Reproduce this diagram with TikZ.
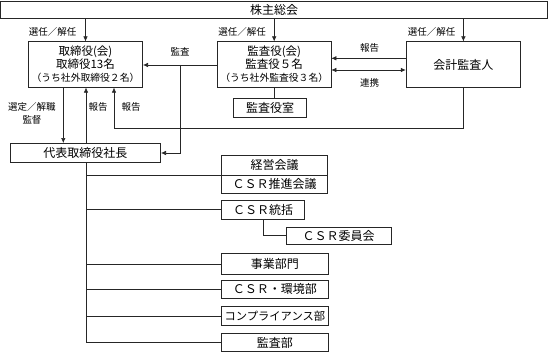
\documentclass[tikz,border=0pt]{standalone}
\usepackage{fontspec}
\setmainfont{Noto Sans CJK JP}
\usetikzlibrary{arrows.meta}
\tikzset{
  box/.style={draw=black!85, line width=0.6pt, inner sep=0pt, anchor=center,
    font=\fontsize{12}{13}\selectfont},
  bigbox/.style={box, align=center, font=\fontsize{11.5}{13}\selectfont},
  lbl/.style={inner sep=0pt, font=\fontsize{9.5}{12.7}\selectfont, align=center},
  ln/.style={line width=0.6pt, draw=black!85},
  arr/.style={ln, -{Latex[length=5pt,width=4.5pt]}},
  darr/.style={ln, {Latex[length=5pt,width=4.5pt]}-{Latex[length=5pt,width=4.5pt]}},
}
\begin{document}
\begin{tikzpicture}[x=1pt,y=-1pt]
\useasboundingbox (0,0) rectangle (549,353);
% boxes
\node[box, minimum width=547pt, minimum height=17.3pt] (top) at (274.2,9.7) {株主総会};
\node[bigbox, minimum width=114.4pt, minimum height=45.6pt] (tori) at (85.5,64.5)
  {取締役(会)\\取締役13名\\{\fontsize{9.8}{13}\selectfont （うち社外取締役２名）}};
\node[bigbox, minimum width=113.7pt, minimum height=45.6pt] (kansa) at (274.2,64.5)
  {監査役(会)\\監査役５名\\{\fontsize{9.8}{13}\selectfont （うち社外監査役３名）}};
\node[box, minimum width=114.7pt, minimum height=45.6pt] (kaikei) at (463.4,64.5) {会計監査人};
\node[box, minimum width=73.4pt, minimum height=19pt] (shitsu) at (270,107.8) {監査役室};
\node[box, minimum width=150.7pt, minimum height=19.4pt] (pres) at (85.35,153) {代表取締役社長};
\node[box, minimum width=106pt, minimum height=20pt] (keiei) at (274.7,165) {経営会議};
\node[box, minimum width=106pt, minimum height=18.3pt] (csrp) at (274.7,184.15) {ＣＳＲ推進会議};
\node[box, minimum width=82.6pt, minimum height=19.3pt] (csrt) at (263,209.65) {ＣＳＲ統括};
\node[box, minimum width=105pt, minimum height=16.7pt] (csri) at (338.5,235.7) {ＣＳＲ委員会};
\node[box, minimum width=106.3pt, minimum height=21pt] (jigyo) at (274.85,264) {事業部門};
\node[box, minimum width=106.3pt, minimum height=18.3pt] (csre) at (274.85,289.15) {ＣＳＲ・環境部};
\node[box, minimum width=106.3pt, minimum height=18.3pt, font=\fontsize{11.3}{13}\selectfont] (comp) at (274.85,315.85) {コンプライアンス部};
\node[box, minimum width=106.3pt, minimum height=18.3pt] (kbu) at (274.85,342.5) {監査部};
% helper coordinates
\coordinate (xA) at (63.3,0);
\coordinate (xB) at (86,0);
\coordinate (xC) at (114,0);
\coordinate (xK) at (180,0);
\coordinate (yR) at (0,128.3);
\coordinate (yH) at (0,58.3);
\coordinate (yL) at (0,70);
\coordinate (yM) at (0,65);
% election arrows
\draw[arr] (top.south -| tori.north) -- (tori.north);
\draw[arr] (top.south -| kansa.north) -- (kansa.north);
\draw[arr] (top.south -| kaikei.north) -- (kaikei.north);
% board <-> president
\draw[arr] (tori.south -| xA) -- (pres.north -| xA);
\draw[arr] (pres.north -| xB) -- (tori.south -| xB);
% auditor report
\draw[arr] (kaikei.south) -- (kaikei.south |- yR) -- (xC |- yR) -- (tori.south -| xC);
% audit
\draw[arr] (kansa.west |- yM) -- (tori.east |- yM);
\draw[arr] (xK |- yM) -- (xK |- pres.east) -- (pres.east);
% kaikei - kansa
\draw[arr] (kaikei.west |- yH) -- (kansa.east |- yH);
\draw[darr] (kansa.east |- yL) -- (kaikei.west |- yL);
% kansa office
\draw[ln] (kansa.south) -- (kansa.south |- shitsu.north);
% trunk
\draw[ln] (pres.south -| xB) -- (xB |- kbu.west) -- (kbu.west);
\draw[ln] (xB |- keiei.south) -- (keiei.south -| keiei.west);
\draw[ln] (xB |- csrt.west) -- (csrt.west);
\draw[ln] (xB |- jigyo.west) -- (jigyo.west);
\draw[ln] (xB |- csre.west) -- (csre.west);
\draw[ln] (xB |- comp.west) -- (comp.west);
\draw[ln] (csrt.south) |- (csri.west);
% labels
\node[lbl] (l1) at (52.5,32) {選任／解任};
\node[lbl] (l2) at (242,32) {選任／解任};
\node[lbl] (l3) at (431.5,32) {選任／解任};
\node[lbl] (l4) at (180,52) {監査};
\node[lbl] (l5) at (369.5,47.5) {報告};
\node[lbl] (l6) at (369.5,82.5) {連携};
\node[lbl] (l7) at (32,113.5) {選定／解職\\監督};
\node[lbl] (l8) at (98,107) {報告};
\node[lbl] (l9) at (131,107) {報告};
\end{tikzpicture}
\end{document}
